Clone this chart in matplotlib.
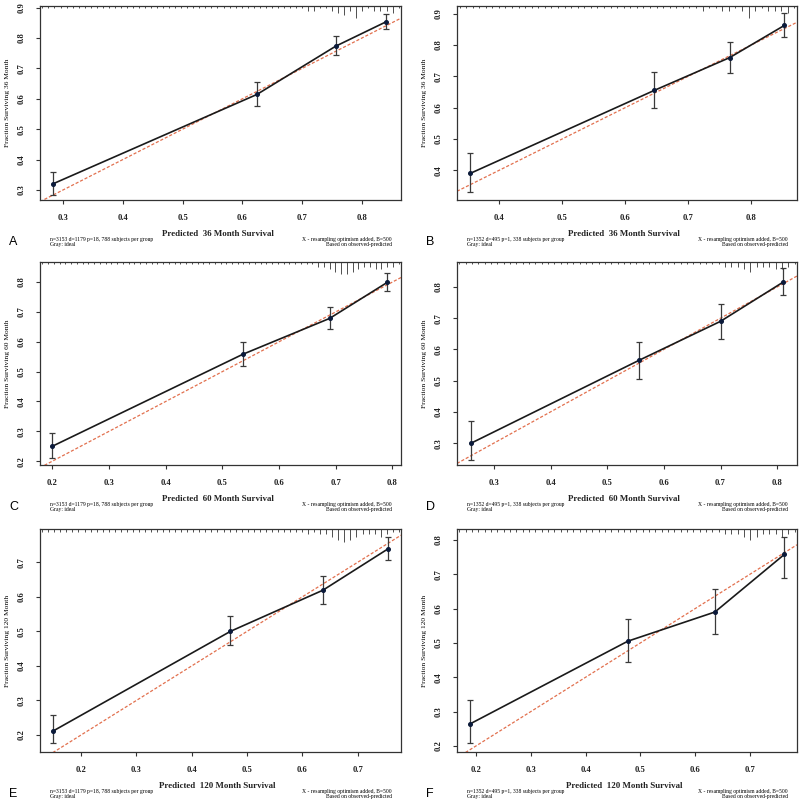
import numpy as np
import matplotlib.pyplot as plt

plt.rcParams['font.family'] = ['Liberation Serif', 'DejaVu Serif']

# ---- data ----
letters = ["A", "B", "C", "D", "E", "F"]
months = ["36", "36", "60", "60", "120", "120"]
n_text = ["n=3153 d=1179 p=18, 788 subjects per group",
          "n=1352 d=495 p=1, 338 subjects per group"]

pred_A = [0.283, 0.624, 0.756, 0.840]
obs_A = [0.320, 0.614, 0.773, 0.853]
lo_A = [0.282, 0.577, 0.743, 0.828]
hi_A = [0.360, 0.654, 0.807, 0.878]

pred_B = [0.354, 0.646, 0.766, 0.853]
obs_B = [0.390, 0.655, 0.760, 0.863]
lo_B = [0.332, 0.600, 0.711, 0.826]
hi_B = [0.455, 0.715, 0.811, 0.902]

pred_C = [0.200, 0.536, 0.689, 0.791]
obs_C = [0.250, 0.558, 0.678, 0.799]
lo_C = [0.212, 0.520, 0.641, 0.770]
hi_C = [0.293, 0.600, 0.717, 0.829]

pred_D = [0.260, 0.556, 0.700, 0.810]
obs_D = [0.300, 0.565, 0.690, 0.815]
lo_D = [0.245, 0.505, 0.635, 0.775]
hi_D = [0.370, 0.625, 0.745, 0.860]

pred_E = [0.150, 0.470, 0.637, 0.754]
obs_E = [0.212, 0.500, 0.619, 0.738]
lo_E = [0.178, 0.460, 0.580, 0.707]
hi_E = [0.257, 0.545, 0.659, 0.774]

pred_F = [0.189, 0.477, 0.636, 0.763]
obs_F = [0.264, 0.505, 0.590, 0.758]
lo_F = [0.208, 0.444, 0.527, 0.690]
hi_F = [0.335, 0.571, 0.657, 0.810]

xlims = [(0.2615, 0.865), (0.333, 0.873), (0.178, 0.815),
         (0.235, 0.835), (0.126, 0.778), (0.165, 0.786)]
ylims = [(0.267, 0.905), (0.305, 0.925), (0.187, 0.867),
         (0.230, 0.880), (0.151, 0.796), (0.182, 0.832)]
xticks = [[0.3, 0.4, 0.5, 0.6, 0.7, 0.8], [0.4, 0.5, 0.6, 0.7, 0.8],
          [0.2, 0.3, 0.4, 0.5, 0.6, 0.7, 0.8], [0.3, 0.4, 0.5, 0.6, 0.7, 0.8],
          [0.2, 0.3, 0.4, 0.5, 0.6, 0.7], [0.2, 0.3, 0.4, 0.5, 0.6, 0.7]]
yticks = [[0.3, 0.4, 0.5, 0.6, 0.7, 0.8, 0.9], [0.4, 0.5, 0.6, 0.7, 0.8, 0.9],
          [0.2, 0.3, 0.4, 0.5, 0.6, 0.7, 0.8], [0.3, 0.4, 0.5, 0.6, 0.7, 0.8],
          [0.2, 0.3, 0.4, 0.5, 0.6, 0.7], [0.2, 0.3, 0.4, 0.5, 0.6, 0.7, 0.8]]

# rug at the top (distribution of predictions): relative tick lengths across the x range
rug_A = [1, 1, 1, 1, 1, 1, 1, 1, 1, 1, 1, 1, 1, 1, 1, 1, 1, 1, 1, 1, 1, 1, 1, 1, 1, 1, 1,
         1, 1, 1, 1, 1, 1, 1, 1, 1, 1, 1, 1, 1, 1, 1, 1, 1, 2, 2, 1, 1, 2, 3, 4, 2, 5, 2, 1, 2, 2, 2, 3, 1]
rug_B = [1, 1, 1, 1, 1, 1, 1, 1, 1, 1, 1, 1, 1, 1, 1, 1, 1, 1, 1, 1, 1, 1, 1, 1, 1, 1, 1,
         1, 1, 1, 1, 1, 1, 1, 1, 1, 1, 2, 1, 1, 2, 2, 1, 2, 5, 2, 1, 2, 2, 2, 3, 1]
rug_C = [1, 1, 1, 1, 1, 1, 1, 1, 1, 1, 1, 1, 1, 1, 1, 1, 1, 1, 1, 1, 1, 1, 1, 1, 1, 1, 1, 1, 1,
         1, 1, 1, 1, 1, 1, 1, 1, 1, 1, 1, 1, 1, 1, 1, 1, 1, 1, 1, 2, 2, 3, 4, 5, 5, 4, 3, 2, 2, 3, 3, 2, 2, 1]
rug_D = [1, 1, 1, 1, 1, 1, 1, 1, 1, 1, 1, 1, 1, 1, 1, 1, 1, 1, 1, 1, 1, 1, 1, 1, 1, 1, 1,
         1, 1, 1, 1, 1, 1, 1, 1, 1, 1, 1, 1, 1, 1, 1, 2, 2, 2, 3, 4, 2, 2, 2, 3, 3, 2, 1]
rug_E = [1, 1, 1, 1, 1, 1, 1, 1, 1, 1, 1, 1, 1, 1, 1, 1, 1, 1, 1, 1, 1, 1, 1, 1, 1, 1, 1, 1, 1,
         1, 1, 1, 1, 1, 1, 1, 1, 1, 1, 1, 1, 1, 1, 1, 2, 1, 2, 2, 3, 4, 5, 4, 3, 2, 2, 2, 3, 2, 1, 1]
rug_F = [1, 1, 1, 1, 1, 1, 1, 1, 1, 1, 1, 1, 1, 1, 1, 1, 1, 1, 1, 1, 1, 1, 1, 1, 1, 1, 1, 1, 1,
         1, 1, 1, 1, 1, 1, 1, 1, 1, 1, 1, 1, 1, 2, 2, 2, 3, 4, 3, 2, 2, 2, 3, 2, 1]

panels = [(pred_A, obs_A, lo_A, hi_A, rug_A), (pred_B, obs_B, lo_B, hi_B, rug_B),
          (pred_C, obs_C, lo_C, hi_C, rug_C), (pred_D, obs_D, lo_D, hi_D, rug_D),
          (pred_E, obs_E, lo_E, hi_E, rug_E), (pred_F, obs_F, lo_F, hi_F, rug_F)]

# ---- layout (pixels) ----
W, H = 800, 805
cols = [(40, 401), (457, 797)]
rows = [(6, 200), (262, 465), (529, 752)]

fig = plt.figure(figsize=(W / 100, H / 100), dpi=100)


def fx(px):
    return px / W


def fy(py):
    return 1 - py / H


for i, (pred, obs, lo, hi, rug) in enumerate(panels):
    r, c = divmod(i, 2)
    x0, x1 = cols[c]
    y0, y1 = rows[r]
    ax = fig.add_axes([fx(x0), fy(y1), fx(x1 - x0), (y1 - y0) / H])
    ax.set_xlim(*xlims[i])
    ax.set_ylim(*ylims[i])

    # ideal line
    ax.plot(xlims[i], xlims[i], color="#e2704e", ls=(0, (2.5, 1.5)), lw=0.9, zorder=2)
    # apparent calibration
    ax.plot(pred, obs, color="#1a1a1a", lw=1.2, zorder=3)
    yerr = [np.array(obs) - np.array(lo), np.array(hi) - np.array(obs)]
    ax.errorbar(pred, obs, yerr=yerr, fmt="none", ecolor="#3a3a3a", elinewidth=0.9,
                capsize=2.5, capthick=0.9, zorder=4)
    ax.plot(pred, obs, "o", color="#0b1a3a", ms=2.6, zorder=5)

    # rug of predictions at the top
    xs = np.linspace(xlims[i][0] + 0.004, xlims[i][1] - 0.004, len(rug))
    span = ylims[i][1] - ylims[i][0]
    for xv, h in zip(xs, rug):
        ax.plot([xv, xv], [ylims[i][1], ylims[i][1] - h * 0.012 * span],
                color="#333333", lw=0.6, zorder=2, solid_capstyle="butt")

    ax.set_xticks(xticks[i])
    ax.set_yticks(yticks[i])
    ax.set_xticklabels([f"{t:.1f}" for t in xticks[i]], fontsize=6.2, fontweight="bold")
    ax.set_yticklabels([f"{t:.1f}" for t in yticks[i]], fontsize=6.2, fontweight="bold",
                       rotation=90, va="center")
    ax.tick_params(length=3, width=0.8, pad=7, color="#333333", labelcolor="#222222")
    for s in ax.spines.values():
        s.set_linewidth(0.9)
        s.set_color("#333333")
    ax.set_ylabel(f"Fraction Surviving {months[i]} Month", fontsize=5.4, labelpad=6)

    xc = (x0 + x1) / 2
    tx_y = y1 + 34
    fig.text(fx(xc - 3), fy(tx_y), f"Predicted  {months[i]} Month Survival", fontsize=6.4,
             fontweight="bold", ha="center", va="center", color="#222222")
    fig.text(fx(x0 - 31), fy(tx_y + 8), letters[i], fontsize=9,
             family="Liberation Sans", ha="left", va="center")
    fig.text(fx(x0 + 10), fy(tx_y + 8), n_text[c] + "\nGray: ideal", fontsize=4.1,
             ha="left", va="center", linespacing=1.05)
    fig.text(fx(x1 - 9), fy(tx_y + 8),
             "X - resampling optimism added, B=500\nBased on observed-predicted",
             fontsize=4.1, ha="right", va="center", linespacing=1.05, multialignment="right")

fig.savefig("out.png", dpi=100)
